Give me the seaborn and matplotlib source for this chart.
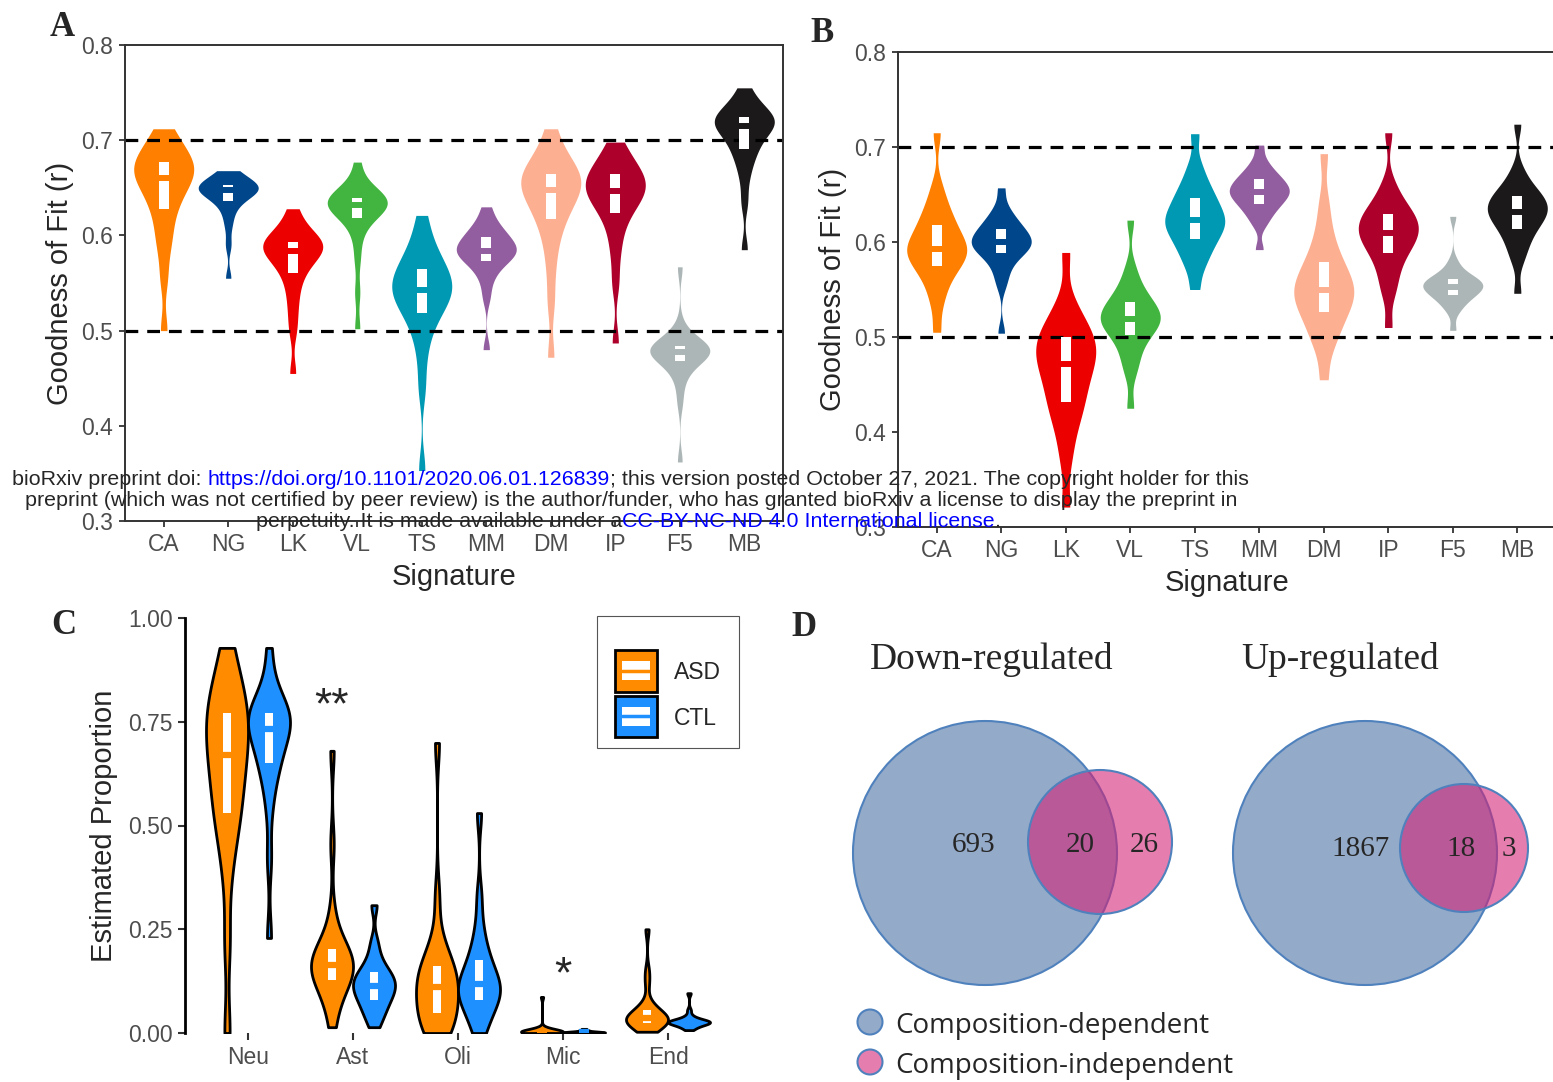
import numpy as np
import pandas as pd
import seaborn as sns
import matplotlib.pyplot as plt
from matplotlib.patches import Ellipse, Rectangle
from matplotlib.lines import Line2D


# ---- data (each violin given as its 0,5,...,100 % quantiles) ----
SIGS = ['CA', 'NG', 'LK', 'VL', 'TS', 'MM', 'DM', 'IP', 'F5', 'MB']
SIG_COLORS = ['#FF7F00', '#00468B', '#ED0000', '#42B540', '#0099B4',
              '#925E9F', '#FDAF91', '#AD002A', '#ADB6B6', '#1B1919']

# panel A
a_CA = [0.500, 0.555, 0.585, 0.600, 0.615, 0.628, 0.636, 0.644, 0.651, 0.656, 0.660, 0.664, 0.668, 0.672, 0.675, 0.677, 0.682, 0.688, 0.694, 0.702, 0.712]
a_NG = [0.555, 0.590, 0.610, 0.622, 0.630, 0.636, 0.639, 0.642, 0.644, 0.646, 0.648, 0.649, 0.650, 0.651, 0.652, 0.653, 0.655, 0.658, 0.661, 0.664, 0.668]
a_LK = [0.455, 0.500, 0.520, 0.537, 0.550, 0.561, 0.567, 0.572, 0.577, 0.581, 0.584, 0.587, 0.589, 0.590, 0.592, 0.593, 0.597, 0.601, 0.607, 0.615, 0.628]
a_VL = [0.502, 0.540, 0.575, 0.597, 0.610, 0.618, 0.622, 0.625, 0.628, 0.630, 0.632, 0.634, 0.636, 0.637, 0.638, 0.639, 0.642, 0.645, 0.650, 0.658, 0.677]
a_TS = [0.353, 0.440, 0.475, 0.497, 0.510, 0.519, 0.525, 0.531, 0.536, 0.540, 0.543, 0.547, 0.551, 0.555, 0.560, 0.565, 0.571, 0.578, 0.587, 0.600, 0.621]
a_MM = [0.480, 0.535, 0.552, 0.562, 0.568, 0.573, 0.576, 0.579, 0.581, 0.583, 0.584, 0.586, 0.589, 0.592, 0.595, 0.598, 0.601, 0.605, 0.610, 0.617, 0.630]
a_DM = [0.472, 0.530, 0.565, 0.590, 0.605, 0.617, 0.625, 0.632, 0.638, 0.643, 0.648, 0.652, 0.656, 0.659, 0.662, 0.665, 0.670, 0.676, 0.683, 0.693, 0.712]
a_IP = [0.487, 0.550, 0.580, 0.600, 0.614, 0.624, 0.630, 0.636, 0.640, 0.644, 0.647, 0.650, 0.654, 0.657, 0.661, 0.664, 0.668, 0.673, 0.679, 0.687, 0.698]
a_F5 = [0.362, 0.425, 0.445, 0.456, 0.463, 0.468, 0.471, 0.473, 0.475, 0.477, 0.478, 0.479, 0.480, 0.482, 0.483, 0.484, 0.486, 0.489, 0.493, 0.505, 0.567]
a_MB = [0.585, 0.635, 0.660, 0.675, 0.684, 0.691, 0.697, 0.703, 0.708, 0.712, 0.715, 0.717, 0.719, 0.721, 0.723, 0.724, 0.728, 0.732, 0.737, 0.743, 0.755]

# panel B
b_CA = [0.505, 0.535, 0.550, 0.562, 0.569, 0.575, 0.580, 0.584, 0.588, 0.591, 0.593, 0.597, 0.601, 0.606, 0.612, 0.618, 0.624, 0.632, 0.642, 0.658, 0.715]
b_NG = [0.504, 0.555, 0.567, 0.577, 0.583, 0.588, 0.591, 0.594, 0.596, 0.598, 0.600, 0.602, 0.605, 0.608, 0.611, 0.614, 0.618, 0.622, 0.628, 0.636, 0.657]
b_LK = [0.321, 0.370, 0.395, 0.412, 0.423, 0.432, 0.441, 0.450, 0.459, 0.466, 0.472, 0.478, 0.484, 0.489, 0.494, 0.500, 0.506, 0.513, 0.522, 0.538, 0.589]
b_VL = [0.425, 0.462, 0.475, 0.486, 0.495, 0.502, 0.507, 0.511, 0.514, 0.517, 0.519, 0.522, 0.526, 0.529, 0.533, 0.537, 0.542, 0.549, 0.558, 0.573, 0.623]
b_TS = [0.550, 0.572, 0.582, 0.591, 0.597, 0.603, 0.608, 0.613, 0.617, 0.620, 0.623, 0.627, 0.631, 0.636, 0.641, 0.646, 0.652, 0.659, 0.668, 0.682, 0.714]
b_MM = [0.592, 0.618, 0.626, 0.632, 0.636, 0.640, 0.643, 0.646, 0.649, 0.651, 0.653, 0.655, 0.658, 0.660, 0.663, 0.666, 0.669, 0.673, 0.678, 0.686, 0.702]
b_DM = [0.455, 0.488, 0.500, 0.510, 0.518, 0.526, 0.532, 0.537, 0.542, 0.546, 0.550, 0.555, 0.560, 0.565, 0.572, 0.579, 0.588, 0.600, 0.617, 0.642, 0.693]
b_IP = [0.510, 0.545, 0.558, 0.571, 0.580, 0.588, 0.594, 0.599, 0.603, 0.607, 0.610, 0.614, 0.618, 0.622, 0.625, 0.629, 0.634, 0.640, 0.648, 0.662, 0.715]
b_F5 = [0.507, 0.527, 0.533, 0.538, 0.541, 0.544, 0.546, 0.548, 0.550, 0.552, 0.553, 0.555, 0.556, 0.558, 0.559, 0.561, 0.563, 0.566, 0.571, 0.580, 0.627]
b_MB = [0.546, 0.580, 0.592, 0.601, 0.608, 0.614, 0.619, 0.623, 0.627, 0.630, 0.632, 0.635, 0.639, 0.642, 0.645, 0.648, 0.652, 0.657, 0.664, 0.676, 0.724]

# panel C
CELLS = ['Neu', 'Ast', 'Oli', 'Mic', 'End']
GROUPS = ['ASD', 'CTL']
GROUP_COLORS = ['#FF8C00', '#1E90FF']
c_neu_asd = [0.000, 0.220, 0.380, 0.460, 0.500, 0.530, 0.560, 0.590, 0.620, 0.645, 0.671, 0.690, 0.710, 0.735, 0.755, 0.771, 0.790, 0.815, 0.840, 0.875, 0.928]
c_neu_ctl = [0.229, 0.420, 0.540, 0.600, 0.630, 0.650, 0.670, 0.690, 0.705, 0.720, 0.733, 0.743, 0.752, 0.760, 0.765, 0.771, 0.780, 0.795, 0.815, 0.850, 0.928]
c_ast_asd = [0.014, 0.060, 0.085, 0.105, 0.118, 0.128, 0.138, 0.146, 0.153, 0.158, 0.163, 0.170, 0.177, 0.185, 0.193, 0.202, 0.215, 0.235, 0.290, 0.455, 0.680]
c_ast_ctl = [0.014, 0.035, 0.048, 0.060, 0.070, 0.080, 0.087, 0.095, 0.102, 0.108, 0.114, 0.120, 0.127, 0.133, 0.140, 0.147, 0.157, 0.170, 0.190, 0.220, 0.308]
c_oli_asd = [0.000, 0.000, 0.012, 0.025, 0.037, 0.048, 0.060, 0.073, 0.087, 0.099, 0.110, 0.120, 0.130, 0.141, 0.151, 0.161, 0.175, 0.195, 0.230, 0.330, 0.699]
c_oli_ctl = [0.000, 0.020, 0.040, 0.058, 0.070, 0.080, 0.088, 0.095, 0.102, 0.110, 0.117, 0.125, 0.135, 0.147, 0.161, 0.176, 0.195, 0.220, 0.260, 0.330, 0.530]
c_mic_asd = [0.000, 0.000, 0.000, 0.001, 0.001, 0.001, 0.002, 0.002, 0.002, 0.003, 0.003, 0.003, 0.004, 0.004, 0.005, 0.005, 0.006, 0.007, 0.009, 0.012, 0.087]
c_mic_ctl = [0.000, 0.000, 0.000, 0.000, 0.001, 0.001, 0.001, 0.001, 0.002, 0.002, 0.002, 0.002, 0.003, 0.003, 0.003, 0.004, 0.004, 0.005, 0.006, 0.007, 0.010]
c_end_asd = [0.003, 0.010, 0.015, 0.019, 0.022, 0.025, 0.027, 0.030, 0.032, 0.034, 0.036, 0.039, 0.042, 0.046, 0.050, 0.055, 0.062, 0.075, 0.120, 0.150, 0.250]
c_end_ctl = [0.007, 0.012, 0.015, 0.018, 0.020, 0.022, 0.023, 0.024, 0.025, 0.026, 0.026, 0.027, 0.028, 0.029, 0.030, 0.030, 0.033, 0.037, 0.042, 0.055, 0.096]
SIG_MARKS = ['**', '', '', '*', '']

# panel D (venn counts: only-dependent, both, only-independent)
down_counts = [693, 20, 26]
up_counts = [1867, 18, 3]

A_VALUES = [a_CA, a_NG, a_LK, a_VL, a_TS, a_MM, a_DM, a_IP, a_F5, a_MB]
B_VALUES = [b_CA, b_NG, b_LK, b_VL, b_TS, b_MM, b_DM, b_IP, b_F5, b_MB]
C_ASD = [c_neu_asd, c_ast_asd, c_oli_asd, c_mic_asd, c_end_asd]
C_CTL = [c_neu_ctl, c_ast_ctl, c_oli_ctl, c_mic_ctl, c_end_ctl]


def fit_frame(values):
    return pd.DataFrame({'sig': np.repeat(SIGS, [len(v) for v in values]),
                         'r': np.concatenate(values)})


dfA = fit_frame(A_VALUES)
dfB = fit_frame(B_VALUES)
rows = []
for cell, asd, ctl in zip(CELLS, C_ASD, C_CTL):
    rows += [(cell, 'ASD', v) for v in asd] + [(cell, 'CTL', v) for v in ctl]
dfC = pd.DataFrame(rows, columns=['cell', 'group', 'prop'])


# ---- style ----
sns.set_style('ticks')
plt.rcParams['font.family'] = ['Liberation Sans', 'DejaVu Sans']
W, H = 1553, 1082
fig = plt.figure(figsize=(W / 100, H / 100), dpi=100)


def px_axes(l, t, r, b):
    return fig.add_axes([l / W, 1 - b / H, (r - l) / W, (b - t) / H])


def draw_boxes(ax, groups, positions, colors, width, med_lw):
    # white quartile box split by a median line in the violin colour
    for pos, vals, col in zip(positions, groups, colors):
        q1, med, q3 = np.percentile(vals, [25, 50, 75])
        ax.bar(pos, q3 - q1, bottom=q1, width=width, color='white', linewidth=0, zorder=3)
        ax.hlines(med, pos - width * 0.6, pos + width * 0.6, color=col, linewidth=med_lw, zorder=4)


def fit_panel(ax, df, values):
    sns.violinplot(data=df, x='sig', y='r', hue='sig', order=SIGS, hue_order=SIGS,
                   palette=SIG_COLORS, legend=False, inner=None, cut=0, density_norm='width',
                   width=0.93, linewidth=0, saturation=1, bw_adjust=0.6, gridsize=200, ax=ax)
    draw_boxes(ax, values, np.arange(len(SIGS)), SIG_COLORS, 0.16, 4.3)
    for y in (0.5, 0.7):
        ax.axhline(y, color='black', linestyle=(0, (4, 2.8)), linewidth=2.3, zorder=2)
    ax.set_xlim(-0.6, 9.6)
    ax.set_ylim(0.3, 0.8)
    ax.set_yticks([0.3, 0.4, 0.5, 0.6, 0.7, 0.8])
    ax.set_yticklabels(['0.3', '0.4', '0.5', '0.6', '0.7', '0.8'])
    for s in ax.spines.values():
        s.set_visible(True)
        s.set_color('#333333')
        s.set_linewidth(1.4)
    ax.tick_params(length=4.5, width=1.3, color='#333333', labelsize=16.5,
                   labelcolor='#4D4D4D', pad=4)
    ax.set_xlabel('Signature', fontsize=21, labelpad=5)
    ax.set_ylabel('Goodness of Fit (r)', fontsize=21, labelpad=5)


axA = px_axes(125, 45, 783, 521)
fit_panel(axA, dfA, A_VALUES)
axB = px_axes(898, 52, 1556, 527)
fit_panel(axB, dfB, B_VALUES)

# ---- panel C ----
axC = px_axes(185, 618, 731, 1033)
sns.violinplot(data=dfC, x='cell', y='prop', hue='group', order=CELLS, hue_order=GROUPS,
               palette=GROUP_COLORS, legend=False, inner=None, cut=0, density_norm='width',
               width=0.8, gap=0, linewidth=2, linecolor='black', saturation=1,
               bw_adjust=0.6, gridsize=200, ax=axC)
pos = np.arange(len(CELLS))
draw_boxes(axC, C_ASD, pos - 0.2, [GROUP_COLORS[0]] * 5, 0.076, 4.5)
draw_boxes(axC, C_CTL, pos + 0.2, [GROUP_COLORS[1]] * 5, 0.076, 4.5)
axC.text(0.8, 0.785, SIG_MARKS[0], fontsize=32, ha='center', va='center')
axC.text(3, 0.137, SIG_MARKS[3], fontsize=32, ha='center', va='center')
axC.set_xlim(-0.6, 4.6)
axC.set_ylim(0, 1)
axC.set_yticks([0, 0.25, 0.5, 0.75, 1.0])
axC.set_yticklabels(['0.00', '0.25', '0.50', '0.75', '1.00'])
sns.despine(ax=axC, bottom=True)
axC.spines['left'].set_linewidth(2)
axC.spines['left'].set_color('black')
axC.tick_params(length=5, width=1.5, color='#333333', labelsize=16.5, labelcolor='#4D4D4D', pad=4)
axC.set_xlabel('')
axC.set_ylabel('Estimated Proportion', fontsize=21, labelpad=7)


class BoxKey:
    def __init__(self, color):
        self.color = color


class BoxKeyHandler:
    # ggplot-like key: filled square with a white split box inside
    def legend_artist(self, legend, orig_handle, fontsize, handlebox):
        x0, y0 = handlebox.xdescent, handlebox.ydescent
        w = handlebox.width
        kh = 1.8 * fontsize
        yb = y0 + handlebox.height / 2 - kh / 2
        tr = handlebox.get_transform()
        key = Rectangle((x0, yb), w, kh, facecolor=orig_handle.color, edgecolor='black', lw=2, transform=tr)
        inner = Rectangle((x0 + 0.15 * w, yb + 0.28 * kh), 0.7 * w, 0.46 * kh, facecolor='white', lw=0, transform=tr)
        mid = Line2D([x0 + 0.15 * w, x0 + 0.85 * w], [yb + 0.51 * kh] * 2, color=orig_handle.color, lw=2.5, transform=tr)
        for art in (key, inner, mid):
            handlebox.add_artist(art)
        return key


leg = axC.legend([BoxKey(c) for c in GROUP_COLORS], GROUPS, handler_map={BoxKey: BoxKeyHandler()},
                 loc='upper left', bbox_to_anchor=(597 / W, 1 - 616 / H), bbox_transform=fig.transFigure,
                 borderaxespad=0, fontsize=16.5, handlelength=1.8, handleheight=0.7, handletextpad=0.75,
                 labelspacing=0.99, borderpad=0.8, title=' ', title_fontsize=2, fancybox=False,
                 framealpha=1, edgecolor='#555555')
leg.get_frame().set_linewidth(0.8)

# ---- panel D: venn diagrams in pixel coordinates ----
axD = px_axes(780, 600, 1553, 1082)
axD.set_xlim(780, 1553)
axD.set_ylim(1082, 600)
axD.axis('off')
BLUE_FILL, PINK_FILL, EDGE = '#94AAC9', (0.83, 0.12, 0.46, 0.58), '#4F81BD'
VENNS = [((985, 853), 132, (1100, 842), 72, 'Down-regulated', 992, down_counts, [974, 1080, 1144], 852),
         ((1365, 853), 132, (1464, 848), 64, 'Up-regulated', 1340, up_counts, [1361, 1461, 1509], 856)]
for big_c, big_r, small_c, small_r, title, tx, counts, cx, cy in VENNS:
    axD.add_patch(Ellipse(big_c, 2 * big_r, 2 * big_r, facecolor=BLUE_FILL, edgecolor=EDGE, lw=1.5))
    axD.add_patch(Ellipse(small_c, 2 * small_r, 2 * small_r, facecolor=PINK_FILL, edgecolor=EDGE, lw=1.5))
    axD.text(tx, 669, title, fontsize=27, family='Liberation Serif', ha='center', va='baseline')
    for n, x in zip(counts, cx):
        axD.text(x, cy, str(n), fontsize=21, family='Liberation Serif', ha='center', va='baseline')
for y, face, label in [(1022, BLUE_FILL, 'Composition-dependent'), (1062, '#E67DAF', 'Composition-independent')]:
    axD.add_patch(Ellipse((870, y), 25, 25, facecolor=face, edgecolor=EDGE, lw=1.5))
    axD.text(895, y + 11, label, fontsize=20, family='Open Sans', ha='left', va='baseline')

# ---- panel letters ----
for x, y, letter in [(62, 28, 'A'), (822, 33, 'B'), (64, 626, 'C'), (804, 627, 'D')]:
    fig.text(x / W, 1 - y / H, letter, fontsize=25, fontweight='bold', family='Liberation Serif',
             ha='center', va='center')

# ---- bioRxiv watermark ----
wm = fig.add_axes([0, 0, 1, 1])
wm.set_xlim(0, W)
wm.set_ylim(H, 0)
wm.axis('off')
wm.set_zorder(20)
FS = 15.4
t1 = wm.text(12, 485, 'bioRxiv preprint doi:', fontsize=FS, va='baseline')
t2 = wm.annotate('https://doi.org/10.1101/2020.06.01.126839', xy=(1, 0), xycoords=t1, xytext=(4.3, 0),
                 textcoords='offset points', va='bottom', color='blue', fontsize=FS)
wm.annotate('; this version posted October 27, 2021. The copyright holder for this', xy=(1, 0),
            xycoords=t2, va='bottom', fontsize=FS)
wm.text(25, 506, 'preprint (which was not certified by peer review) is the author/funder, '
        'who has granted bioRxiv a license to display the preprint in', fontsize=FS, va='baseline')
t5 = wm.text(256, 527, 'perpetuity. It is made available under a', fontsize=FS, va='baseline')
t6 = wm.annotate('CC-BY-NC-ND 4.0 International license', xy=(1, 0), xycoords=t5, va='bottom',
                 color='blue', fontsize=FS)
wm.annotate('.', xy=(1, 0), xycoords=t6, va='bottom', fontsize=FS)

fig.savefig('out.png', dpi=100)
